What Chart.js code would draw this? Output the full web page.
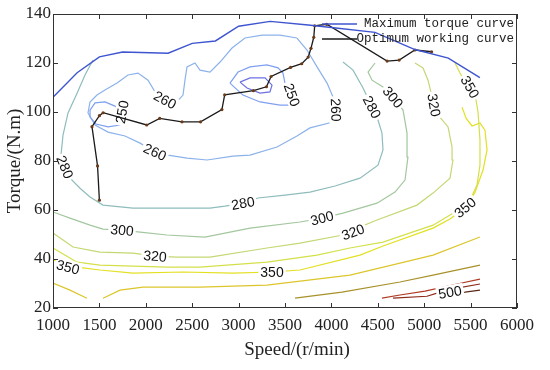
<!DOCTYPE html>
<html>
<head>
<meta charset="utf-8">
<script src="https://cdn.jsdelivr.net/npm/chart.js@4.4.1/dist/chart.umd.min.js"></script>
<style>
  html, body { margin: 0; padding: 0; background: #fff; }
  #wrap { width: 550px; height: 370px; }
</style>
</head>
<body>
<div id="wrap"><canvas id="bsfc" width="550" height="370"></canvas></div>
<script>
// axis ticks
const speedTicks = [1000, 1500, 2000, 2500, 3000, 3500, 4000, 4500, 5000, 5500, 6000];
const torqueTicks = [20, 40, 60, 80, 100, 120, 140];

// maximum torque curve
const maxSpeed  = [1000, 1260, 1500, 1750, 2240, 2500, 2750, 3000, 3340, 3750, 4000, 4470, 4900, 5260, 5600];
const maxTorque = [106, 116, 122.5, 124.5, 124, 128, 129, 135, 137, 135.5, 134.5, 132.5, 125.5, 122, 114];

// optimum working curve
const optSpeed  = [1500, 1480, 1420, 1500, 1540, 2010, 2150, 2390, 2590, 2820, 2850, 3160, 3300, 3350, 3560, 3680, 3750, 3780, 3810, 3820, 3950, 4600, 4730, 4900, 5080];
const optTorque = [64, 78, 94, 98.5, 99.7, 94.7, 97.4, 96, 96, 101, 107, 108.7, 110.3, 114.5, 118.2, 119.7, 122.4, 126, 130.5, 135.2, 135.8, 120.8, 121.2, 125.3, 124.6];

// contour lines (g/kWh)
const c240Speed  = [3015, 3123, 3285, 3360, 3338, 3231, 3091, 3015];
const c240Torque = [112.2, 113.9, 113.9, 111, 108.2, 107.7, 109.8, 112.2];

const c250aSpeed  = [2907, 2994, 3123, 3306, 3425, 3478, 3500, 3532, 3575, 3446, 3231, 3047, 2907];
const c250aTorque = [111.8, 116.3, 118.4, 119.2, 118, 115.9, 111.8, 108.2, 102.8, 102.8, 104.1, 106.9, 111.8];

const c250bSpeed  = [1399, 1453, 1560, 1668, 1743, 1776, 1722, 1593, 1463, 1399, 1399];
const c250bTorque = [100.8, 103.7, 104.1, 102.4, 100, 97.5, 94.7, 93.9, 95.1, 97.9, 100.8];

const c260Speed  = [3629, 3737, 3845, 3953, 4017, 4050, 4017, 3769, 3629, 3414, 3123, 2940, 2660, 2444, 2239, 2099, 1938, 1776, 1593, 1453, 1377, 1399, 1474, 1560, 1690, 1808, 1916, 2024, 2099, 2207, 2325, 2401, 2422, 2444, 2530, 2584, 2692, 2800, 2929, 3069, 3252, 3446, 3629];
const c260Torque = [130.2, 125.3, 118.4, 111.8, 106.1, 100.8, 95.9, 93.5, 90.2, 85.7, 82.4, 82, 80.4, 81.2, 82.4, 83.7, 87.3, 90.2, 91.8, 94.7, 99.6, 104.1, 106.9, 109, 111.8, 115.1, 115.9, 113, 108.2, 104.9, 103.7, 106.9, 113, 118.4, 120, 117.1, 116.3, 120.4, 126.1, 130.2, 131.4, 131.4, 130.2];

const c280Speed  = [1431, 1345, 1259, 1162, 1108, 1086, 1129, 1205, 1291, 1399, 1539, 1862, 2261, 2692, 2853, 3047, 3209, 3500, 3769, 4039, 4308, 4502, 4556, 4545, 4502, 4438, 4341, 4233, 4125];
const c280Torque = [121.2, 115.1, 107.7, 99.6, 90.6, 82.4, 77.5, 72.2, 68.9, 65.3, 62, 60.8, 60.8, 60.8, 61.6, 62.8, 64.9, 66.1, 67.3, 69.8, 73, 78.3, 84.5, 91.4, 96.7, 102, 109.8, 117.1, 120.4];

const c300Speed  = [1000, 1183, 1399, 1539, 1744, 1938, 2228, 2638, 2907, 3123, 3662, 3899, 4125, 4491, 4685, 4793, 4825, 4815, 4772, 4664, 4556, 4438, 4395, 4470];
const c300Torque = [59.2, 56.7, 53.8, 52.2, 51.8, 51, 49.8, 48.9, 51, 52.6, 55.1, 56.7, 58.7, 62.8, 67.3, 72.2, 81.6, 91.4, 100.8, 106.1, 110.2, 113, 116.3, 120];

const c320Speed  = [1000, 1216, 1506, 1862, 2099, 2336, 2692, 3306, 3662, 4125, 4200, 4491, 4922, 5095, 5278, 5310, 5300, 5257, 5149, 5106, 5041, 4987, 4901];
const c320Torque = [50.6, 44.9, 42.8, 42.4, 41.2, 40.8, 40.8, 44.5, 46.5, 49.8, 51.4, 55.9, 62, 66.9, 73, 80.4, 85.7, 93.9, 98.8, 102.8, 113, 118, 120];

const c340Speed  = [1000, 1259, 1506, 2228, 2584, 3306, 3845, 4200, 4556, 5095, 5332, 5494, 5569, 5601, 5601, 5580, 5558, 5472, 5386, 5332];
const c340Torque = [44.5, 38.7, 37.5, 36.7, 36.7, 38.7, 41.6, 44.5, 46.9, 53.8, 59.2, 64.1, 70.2, 78.3, 88.6, 100, 104.9, 109.8, 115.9, 120];

const c350Speed  = [1000, 1259, 1506, 1862, 2401, 2940, 3360, 3662, 4308, 4556, 5095, 5278, 5440, 5548, 5634, 5677, 5655, 5601, 5515, 5451, 5408];
const c350Torque = [39.6, 36.7, 35.5, 34.2, 34.7, 34.2, 34.7, 35.5, 41.6, 45.3, 52.6, 56.3, 60.8, 67.3, 76.3, 84.5, 92.6, 95.5, 94.3, 97.5, 102];

const c400aSpeed  = [1000, 1183, 1366];
const c400aTorque = [30.2, 27.3, 24];
const c400bSpeed  = [1539, 1722, 1970, 2584, 3306, 4200, 4739, 5095, 5601];
const c400bTorque = [24, 27.3, 28.5, 28.5, 29.3, 33.4, 38.3, 41.6, 49];

const c450Speed  = [3608, 4114, 4739, 5095, 5601];
const c450Torque = [24, 26.5, 30.6, 33.4, 37.5];

const c500aSpeed  = [4545, 4739, 5009, 5354, 5601];
const c500aTorque = [24, 25.3, 26.9, 29.8, 31.8];
const c500bSpeed  = [4664, 5030, 5138, 5354, 5601];
const c500bTorque = [24, 24.8, 26.1, 28.1, 29.8];
const c500cSpeed  = [5224, 5440, 5601];
const c500cTorque = [25.7, 26.5, 27.3];

// contour labels
const labelText   = ['250', '250', '260', '260', '260', '280', '280', '280', '300', '300', '300', '320', '320', '320', '350', '350', '350', '350', '500'];
const labelSpeed  = [1743, 3575, 2207, 2099, 4050, 1129, 3047, 4438, 1744, 3899, 4664, 2099, 4233, 5106, 1162, 3360, 5440, 5494, 5278];
const labelTorque = [100, 107, 104.9, 83.7, 100.8, 77.5, 62.8, 102, 51.8, 56.7, 106.1, 41.2, 51, 102.8, 36.7, 34.7, 61, 110.2, 26.5];
const labelAngle  = [-80, 70, 28, 25, 88, 68, -10, 62, 5, -15, 50, 5, -20, 80, 15, 0, -40, 60, -10];

function pts(xs, ys) {
  return xs.map((x, i) => ({ x: x, y: ys[i] }));
}

function contour(xs, ys, color) {
  return {
    data: pts(xs, ys),
    showLine: true,
    borderColor: color,
    borderWidth: 1.2,
    pointRadius: 0,
    fill: false,
    tension: 0
  };
}

const serif = '"Liberation Serif", "Times New Roman", serif';

const datasets = [
  {
    label: 'Maximum torque curve',
    data: pts(maxSpeed, maxTorque),
    showLine: true,
    borderColor: '#3f55d0',
    borderWidth: 1.4,
    pointRadius: 0,
    fill: false
  },
  {
    label: 'Optimum working curve',
    data: pts(optSpeed, optTorque),
    showLine: true,
    borderColor: '#1a1a1a',
    borderWidth: 1.3,
    pointRadius: 1.6,
    pointBorderWidth: 0,
    pointBackgroundColor: '#6b3a1a',
    fill: false
  },
  contour(c240Speed, c240Torque, '#6b70e2'),
  contour(c250aSpeed, c250aTorque, '#7f9ff0'),
  contour(c250bSpeed, c250bTorque, '#7f9ff0'),
  contour(c260Speed, c260Torque, '#8cb2ea'),
  contour(c280Speed, c280Torque, '#8fbcbc'),
  contour(c300Speed, c300Torque, '#a3c79e'),
  contour(c320Speed, c320Torque, '#c3d873'),
  contour(c340Speed, c340Torque, '#d4e04a'),
  contour(c350Speed, c350Torque, '#e2e021'),
  contour(c400aSpeed, c400aTorque, '#dcc62c'),
  contour(c400bSpeed, c400bTorque, '#dcc62c'),
  contour(c450Speed, c450Torque, '#a8912a'),
  contour(c500aSpeed, c500aTorque, '#b03a22'),
  contour(c500bSpeed, c500bTorque, '#8e2a1a'),
  contour(c500cSpeed, c500cTorque, '#5a2a18')
];

// contour labels, box, inward ticks, x title and legend
const mapDecor = {
  id: 'mapDecor',
  afterDatasetDraw(chart, args) {
    if (args.index !== 2) return;
    const ctx = chart.ctx;
    const xs = chart.scales.x, ys = chart.scales.y;
    ctx.save();
    ctx.font = '14px "Liberation Sans", Arial, sans-serif';
    ctx.textAlign = 'center';
    ctx.textBaseline = 'middle';
    labelText.forEach((t, i) => {
      const px = xs.getPixelForValue(labelSpeed[i]);
      const py = ys.getPixelForValue(labelTorque[i]);
      const w = ctx.measureText(t).width;
      ctx.save();
      ctx.translate(px, py);
      ctx.rotate(labelAngle[i] * Math.PI / 180);
      ctx.fillStyle = '#fff';
      ctx.fillRect(-w / 2 - 2, -7, w + 4, 14);
      ctx.fillStyle = '#111';
      ctx.fillText(t, 0, 1);
      ctx.restore();
    });
    ctx.restore();
  },
  afterDraw(chart) {
    const ctx = chart.ctx;
    const a = chart.chartArea;
    const xs = chart.scales.x, ys = chart.scales.y;
    ctx.save();
    ctx.strokeStyle = '#333';
    ctx.lineWidth = 1;
    ctx.strokeRect(a.left + 0.5, a.top + 0.5, a.right - a.left - 1, a.bottom - a.top - 1);
    ctx.beginPath();
    speedTicks.forEach(v => {
      const p = Math.round(xs.getPixelForValue(v)) + 0.5;
      ctx.moveTo(p, a.bottom); ctx.lineTo(p, a.bottom - 5);
      ctx.moveTo(p, a.top); ctx.lineTo(p, a.top + 5);
    });
    torqueTicks.forEach(v => {
      const p = Math.round(ys.getPixelForValue(v)) + 0.5;
      ctx.moveTo(a.left, p); ctx.lineTo(a.left + 5, p);
      ctx.moveTo(a.right, p); ctx.lineTo(a.right - 5, p);
    });
    ctx.stroke();

    // x axis title
    ctx.fillStyle = '#222';
    ctx.font = '19px ' + serif;
    ctx.textAlign = 'center';
    ctx.textBaseline = 'middle';
    ctx.fillText('Speed/(r/min)', a.left + 244, 350);

    // legend
    ctx.font = '12.5px "Liberation Mono", "Courier New", monospace';
    ctx.textAlign = 'right';
    const rows = [
      { text: datasets[0].label, color: datasets[0].borderColor, y: a.top + 10 },
      { text: datasets[1].label, color: datasets[1].borderColor, y: a.top + 25 }
    ];
    rows.forEach(r => {
      ctx.strokeStyle = r.color;
      ctx.lineWidth = 1.4;
      ctx.beginPath();
      ctx.moveTo(a.left + 269, r.y);
      ctx.lineTo(a.left + 304, r.y);
      ctx.stroke();
      ctx.fillStyle = '#222';
      ctx.fillText(r.text, a.right - 3, r.y);
    });
    ctx.restore();
  }
};

new Chart(document.getElementById('bsfc'), {
  type: 'scatter',
  data: { datasets: datasets },
  options: {
    responsive: false,
    animation: false,
    layout: { padding: { top: 14, right: 33, left: 0, bottom: 0 } },
    plugins: {
      legend: { display: false },
      tooltip: { enabled: false }
    },
    scales: {
      x: {
        type: 'linear',
        min: 1000,
        max: 6000,
        afterFit(scale) { scale.height = 62; },
        afterBuildTicks(scale) { scale.ticks = speedTicks.map(v => ({ value: v })); },
        grid: { display: false, drawTicks: false },
        border: { display: false },
        ticks: {
          color: '#222',
          padding: 7,
          maxRotation: 0,
          font: { family: serif, size: 17 },
          callback: v => String(v)
        }
      },
      y: {
        type: 'linear',
        min: 20,
        max: 140,
        afterFit(scale) { scale.width = 53; },
        afterBuildTicks(scale) { scale.ticks = torqueTicks.map(v => ({ value: v })); },
        grid: { display: false, drawTicks: false },
        border: { display: false },
        ticks: { color: '#222', padding: 2, font: { family: serif, size: 17 }, callback: v => String(v) },
        title: { display: true, text: 'Torque/(N.m)', color: '#222', padding: { top: 4, bottom: 0 }, font: { family: serif, size: 19 } }
      }
    }
  },
  plugins: [mapDecor]
});
</script>
</body>
</html>
